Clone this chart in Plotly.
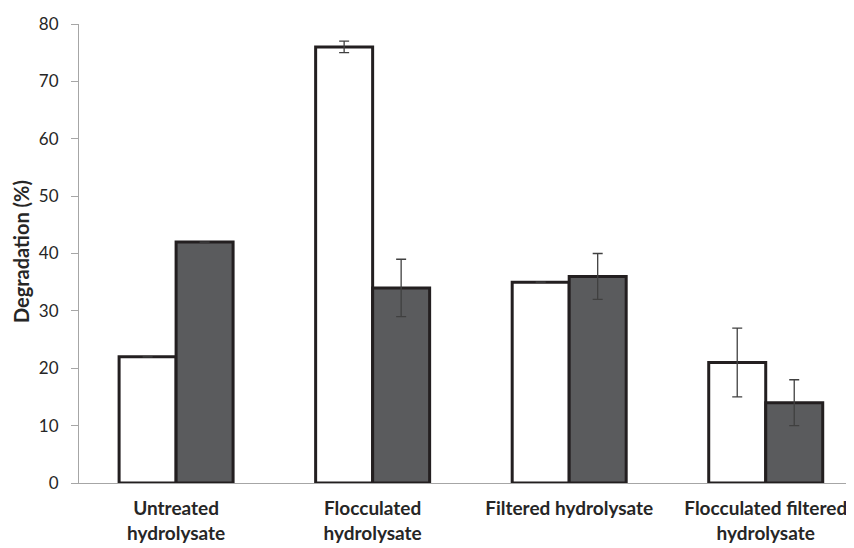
import plotly.graph_objects as go

categories = ["Untreated<br>hydrolysate", "Flocculated<br>hydrolysate",
              "Filtered hydrolysate", "Flocculated filtered<br>hydrolysate"]
x_pos = [0, 1, 2, 3]
white_vals = [22, 76, 35, 21]
white_err = [None, 1, None, 6]
grey_vals = [42, 34, 36, 14]
grey_err = [None, 5, 4, 4]
y_ticks = [0, 10, 20, 30, 40, 50, 60, 70, 80]

FONT = "Lato"
TXT = "#262626"
fig = go.Figure()
fig.add_trace(go.Bar(
    x=x_pos, y=white_vals, name="A",
    marker=dict(color="white", line=dict(color="#231f20", width=3)),
    error_y=dict(type="data", array=white_err, visible=True,
                 color="#404040", thickness=1.3, width=5),
))
fig.add_trace(go.Bar(
    x=x_pos, y=grey_vals, name="B",
    marker=dict(color="#5a5b5d", line=dict(color="#231f20", width=3)),
    error_y=dict(type="data", array=grey_err, visible=True,
                 color="#404040", thickness=1.3, width=5),
))

# page body has an 8px margin, so the figure is shifted by 8px
fig.update_layout(
    width=846, height=540,
    margin=dict(l=71, r=1, t=16, b=65),
    paper_bgcolor="white", plot_bgcolor="white",
    barmode="group", bargap=0.42, bargroupgap=0,
    showlegend=False,
    font=dict(family=FONT, size=17, color=TXT),
    xaxis=dict(
        range=[-0.494, 3.444], tickmode="array", tickvals=x_pos,
        ticktext=["<b>" + c.replace("<br>", "</b><br><b>") + "</b>" for c in categories],
        showline=True, linecolor="#a6a6a6", linewidth=1,
        ticks="", showgrid=False, zeroline=False, ticklabelstandoff=8,
        tickfont=dict(family=FONT, size=19, color=TXT),
    ),
    yaxis=dict(
        range=[0, 80], tickmode="array", tickvals=y_ticks,
        showline=True, linecolor="#a6a6a6", linewidth=1,
        ticks="outside", ticklen=7, tickcolor="#a6a6a6",
        showgrid=False, zeroline=False, ticklabelstandoff=9,
        tickfont=dict(family=FONT, size=17, color=TXT),
    ),
    annotations=[dict(
        text="<b>Degradation (%)</b>", textangle=-90,
        xref="paper", yref="paper", x=(21 - 79) / 774, y=0.503,
        xanchor="center", yanchor="middle", showarrow=False,
        font=dict(family=FONT, size=20, color=TXT),
    )],
)

fig.write_html("out.html")
